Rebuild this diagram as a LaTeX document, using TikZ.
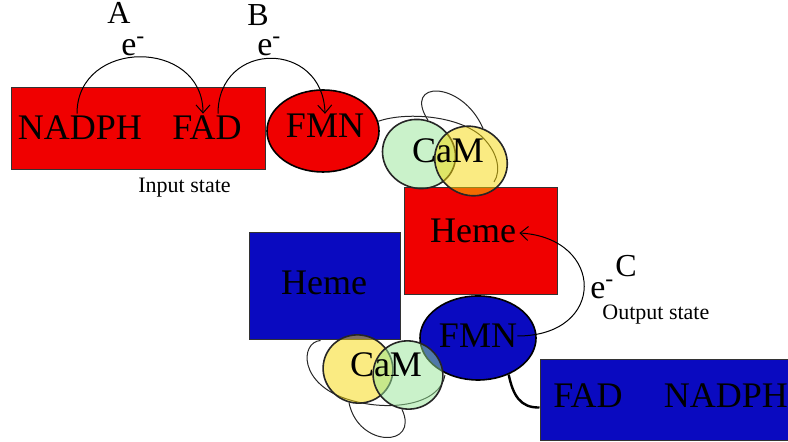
\documentclass[tikz,border=0pt]{standalone}
\usepackage{fontspec}
\setmainfont{Liberation Serif}
\usetikzlibrary{calc}
\usetikzlibrary{arrows.meta}
\usetikzlibrary{shapes.geometric}
\definecolor{domred}{RGB}{240,0,0}
\definecolor{domblue}{RGB}{10,10,192}
\definecolor{camgreen}{RGB}{150,230,150}
\definecolor{camyellow}{RGB}{245,215,5}

\begin{document}
\begin{tikzpicture}[x=0.5pt,y=-0.5pt,
  box/.style={draw=black!80,line width=.5pt,inner sep=0pt},
  lobe/.style={ellipse,draw=black,line width=.8pt,inner sep=0pt},
  cam/.style={ellipse,draw=black!85,line width=.8pt,fill opacity=.5,inner sep=0pt},
  lbl/.style={inner sep=0pt,font=\fontsize{18}{20}\selectfont},
  tag/.style={inner sep=0pt,font=\fontsize{11}{13}\selectfont},
  hop/.style={-{Straight Barb[length=4pt,width=7pt]},line width=.5pt},
  tether/.style={line width=.5pt,black!85}]
\useasboundingbox (0,0) rectangle (788,442);

% input state (red)
\node[box,fill=domred,minimum width=127pt,minimum height=41pt] (inrect) at (138,129) {};
\node[lobe,fill=domred,minimum width=56pt,minimum height=41pt] (fmn1) at (323,131) {};
\node[box,fill=domred,minimum width=76.5pt,minimum height=53.5pt] (heme1) at (480.5,241.5) {};
\draw[tether] (fmn1.10) .. controls (405,112) and (455,115) .. (480,135) .. controls (497,150) and (502,170) .. (494,182);
\node[cam,fill=camgreen,minimum width=37pt,minimum height=34pt,rotate=-25] (camg1) at (419,154) {};
\node[cam,fill=camyellow,minimum width=37pt,minimum height=34pt,rotate=-30] (camy1) at (471,161) {};
\draw[tether] (camg1.100) .. controls (402,80) and (462,80) .. (camy1.100);

% output state (blue)
\node[box,fill=domblue,minimum width=75.5pt,minimum height=53.5pt] (heme2) at (324.5,286.5) {};
\node[lobe,fill=domblue,minimum width=58pt,minimum height=42pt] (fmn2) at (478,338) {};
\node[box,fill=domblue,minimum width=130pt,minimum height=40.5pt] (outrect) at (670,400.5) {};
\draw[tether] ($(heme2.south west)+(72,0)$) .. controls (300,342) and (298,385) .. (350,400) .. controls (390,412) and (440,405) .. (445,375);
\node[cam,fill=camyellow,minimum width=35pt,minimum height=34pt,rotate=-20] (camy2) at (358,369) {};
\node[cam,fill=camgreen,minimum width=35pt,minimum height=34pt,rotate=-20] (camg2) at (408,375) {};
\draw[tether] (camy2.-85) .. controls (358,448) and (420,448) .. (camg2.-80);
\draw[line width=1.2pt] (fmn2.-50) .. controls (513,395) and (520,408) .. ($(outrect.west)+(0,7)$);

% labels
\node[lbl] (nadph1) at (80,128) {NADPH};
\node[lbl] (fad1) at (207,128) {FAD};
\node[lbl] (fmntext1) at (325,126) {FMN};
\node[lbl] (camtext1) at (448,151) {CaM};
\node[lbl] (hemetext1) at (473,231) {Heme};
\node[lbl] (hemetext2) at (324,283) {Heme};
\node[lbl] (fmntext2) at (478,336) {FMN};
\node[lbl] (camtext2) at (386,365) {CaM};
\node[lbl] (fad2) at (588,396) {FAD};
\node[lbl] (nadph2) at (726,396) {NADPH};
\node[tag,anchor=base west] (instate) at (138,193) {Input state};
\node[tag,anchor=base west] (outstate) at (602,320) {Output state};

% electron hops
\node[inner sep=0pt,anchor=base,font=\fontsize{16}{18}\selectfont] (stepA) at (119,24) {A};
\node[inner sep=0pt,anchor=base,font=\fontsize{16}{18}\selectfont] (stepB) at (258,26) {B};
\node[inner sep=0pt,anchor=base,font=\fontsize{16}{18}\selectfont] (stepC) at (626,277) {C};
\node[inner sep=0pt,anchor=base west,font=\fontsize{17}{19}\selectfont] (elecA) at (121,56) {e\textsuperscript{-}};
\node[inner sep=0pt,anchor=base west,font=\fontsize{17}{19}\selectfont] (elecB) at (257,56) {e\textsuperscript{-}};
\node[inner sep=0pt,anchor=base west,font=\fontsize{17}{19}\selectfont] (elecC) at (590,299) {e\textsuperscript{-}};
\draw[hop] ($(nadph1.north)+(-3,-2)$) .. controls (77,38) and (203,38) .. ($(fad1.north)+(-4,-2)$);
\draw[hop] ($(fad1.north)+(11,-2)$) .. controls (218,40) and (323,40) .. (fmntext1.north);
\draw[hop] (fmntext2.east) .. controls (607,336) and (605,238) .. ($(hemetext1.east)+(3,2)$);
\end{tikzpicture}
\end{document}
